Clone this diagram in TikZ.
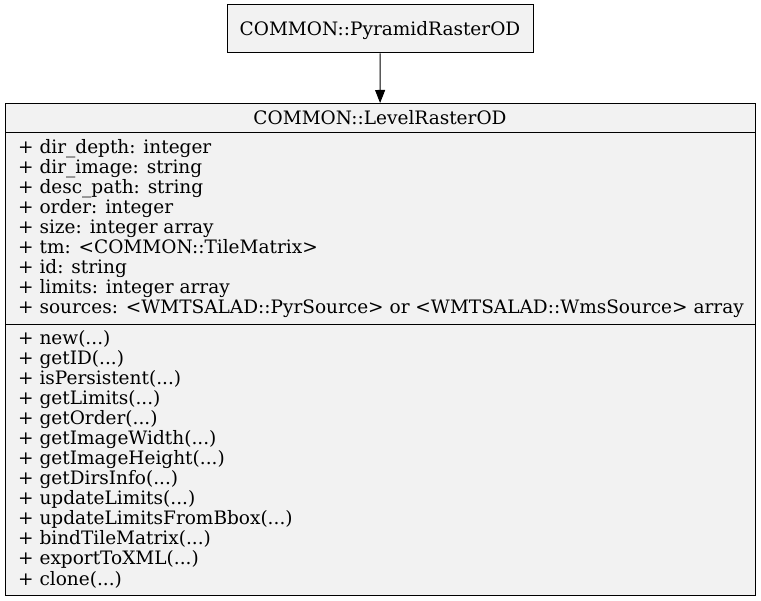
\documentclass[tikz,border=0pt]{standalone}
\usepackage{fontspec}
\setmainfont{DejaVu Serif}
\usetikzlibrary{arrows.meta}
\definecolor{boxfill}{HTML}{F2F2F2}
\begin{document}
\begin{tikzpicture}[x=1pt,y=-1pt,
  cls/.style={draw=black, fill=boxfill, line width=1pt, rectangle, inner sep=0pt},
  txt/.style={inner sep=0pt, anchor=base west, font=\fontsize{18.5}{20}\selectfont},
  ctxt/.style={inner sep=0pt, anchor=base, font=\fontsize{18.5}{20}\selectfont},
  rule/.style={draw=black, line width=1pt},
  inherit/.style={draw=black, line width=1pt, -{Triangle[length=13pt,width=10pt]}}]
\useasboundingbox (0,0) rectangle (761,601);
\node[cls, minimum width=306pt, minimum height=48pt] (pyr) at (380,29) {};
\node[ctxt] (pyrname) at (380,36) {COMMON::PyramidRasterOD};
\node[cls, minimum width=750pt, minimum height=492pt, anchor=north west] (lvl) at (5,103) {};
\node[ctxt] (lvlname) at (380,125) {COMMON::LevelRasterOD};
\draw[rule] (5,133) -- (755,133);
\draw[rule] (5,325) -- (755,325);
\node[txt] (a1) at (18,154) {+ dir\_depth: integer};
\node[txt] (a2) at (18,174) {+ dir\_image: string};
\node[txt] (a3) at (18,194) {+ desc\_path: string};
\node[txt] (a4) at (18,214) {+ order: integer};
\node[txt] (a5) at (18,234) {+ size: integer array};
\node[txt] (a6) at (18,254) {+ tm: <COMMON::TileMatrix>};
\node[txt] (a7) at (18,274) {+ id: string};
\node[txt] (a8) at (18,294) {+ limits: integer array};
\node[txt] (a9) at (18,314) {+ sources: <WMTSALAD::PyrSource> or <WMTSALAD::WmsSource> array};
\node[txt] (m1) at (18,345) {+ new(...)};
\node[txt] (m2) at (18,365) {+ getID(...)};
\node[txt] (m3) at (18,385) {+ isPersistent(...)};
\node[txt] (m4) at (18,405) {+ getLimits(...)};
\node[txt] (m5) at (18,425) {+ getOrder(...)};
\node[txt] (m6) at (18,445) {+ getImageWidth(...)};
\node[txt] (m7) at (18,465) {+ getImageHeight(...)};
\node[txt] (m8) at (18,485) {+ getDirsInfo(...)};
\node[txt] (m9) at (18,505) {+ updateLimits(...)};
\node[txt] (m10) at (18,525) {+ updateLimitsFromBbox(...)};
\node[txt] (m11) at (18,545) {+ bindTileMatrix(...)};
\node[txt] (m12) at (18,565) {+ exportToXML(...)};
\node[txt] (m13) at (18,585) {+ clone(...)};
\draw[inherit] (pyr) -- (lvl);
\end{tikzpicture}
\end{document}
